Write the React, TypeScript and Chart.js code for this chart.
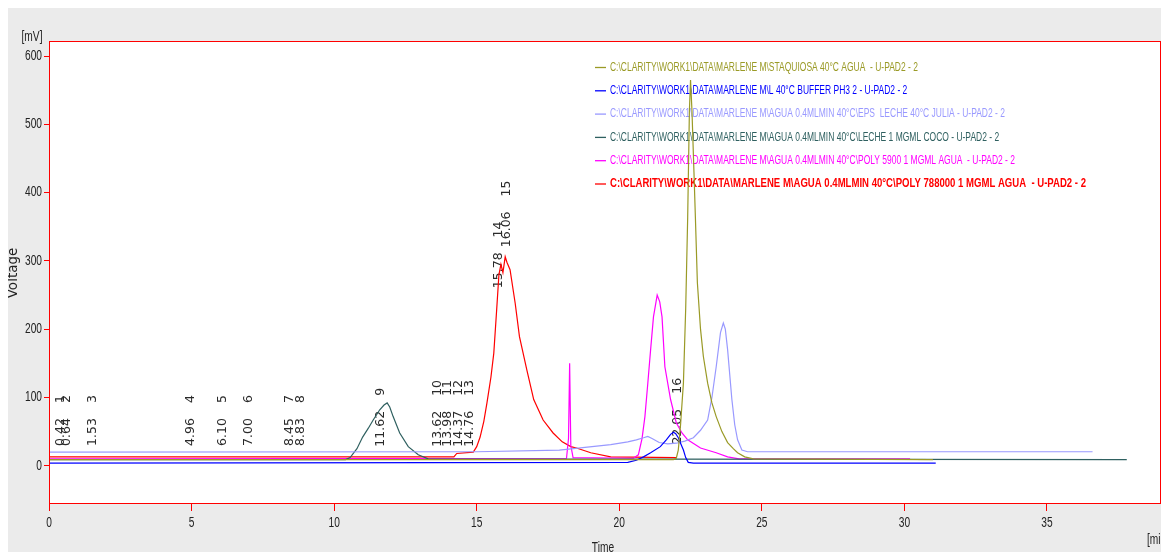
import React, { useEffect, useRef } from "react";
import { Chart, registerables } from "chart.js";

Chart.register(...registerables);

// ---- Data ----
const xTickValues = [0, 5, 10, 15, 20, 25, 30, 35];
const yTickValues = [0, 100, 200, 300, 400, 500, 600];

const legendLabels = [
  "C:\\CLARITY\\WORK1\\DATA\\MARLENE M\\STAQUIOSA 40°C AGUA  - U-PAD2 - 2",
  "C:\\CLARITY\\WORK1\\DATA\\MARLENE M\\L 40°C BUFFER PH3 2 - U-PAD2 - 2",
  "C:\\CLARITY\\WORK1\\DATA\\MARLENE M\\AGUA 0.4MLMIN 40°C\\EPS  LECHE 40°C JULIA - U-PAD2 - 2",
  "C:\\CLARITY\\WORK1\\DATA\\MARLENE M\\AGUA 0.4MLMIN 40°C\\LECHE 1 MGML COCO - U-PAD2 - 2",
  "C:\\CLARITY\\WORK1\\DATA\\MARLENE M\\AGUA 0.4MLMIN 40°C\\POLY 5900 1 MGML AGUA  - U-PAD2 - 2",
  "C:\\CLARITY\\WORK1\\DATA\\MARLENE M\\AGUA 0.4MLMIN 40°C\\POLY 788000 1 MGML AGUA  - U-PAD2 - 2",
];

// Staquiosa (olive)
const staquiosaTime = [0, 21.9, 22.0, 22.07, 22.15, 22.25, 22.33, 22.4, 22.46, 22.5, 22.55, 22.62, 22.67, 22.74, 22.85, 22.95, 23.1, 23.25, 23.4, 23.6, 23.8, 24.0, 24.15, 24.4, 24.7, 31.0];
const staquiosaMv = [9, 9, 11, 23, 60, 121, 230, 364, 520, 565, 520, 430, 364, 268, 200, 160, 121, 92, 72, 50, 34, 25, 19, 13, 10, 9];

// Buffer PH3 (blue)
const bufferTime = [0, 20.3, 20.6, 20.85, 21.1, 21.44, 21.65, 21.8, 21.9, 21.98, 22.07, 22.15, 22.25, 22.33, 22.42, 22.6, 31.1];
const bufferMv = [4, 5, 8, 13, 19, 28, 38, 46, 49, 47, 41, 33, 23, 12, 5, 4, 4];

// EPS leche (lavender)
const epsTime = [0, 15, 17.9, 18.8, 19.7, 20.3, 20.6, 20.85, 21.0, 21.15, 21.4, 21.7, 22.0, 22.3, 22.6, 22.85, 23.1, 23.25, 23.4, 23.55, 23.65, 23.72, 23.8, 23.95, 24.05, 24.15, 24.3, 24.5, 36.6];
const epsMv = [20, 20.5, 23, 27, 31, 35, 38, 41, 43, 40, 34, 32, 33, 36, 41, 52, 67, 100, 145, 195, 209, 200, 170, 97, 60, 38, 23, 20.5, 20.5];

// Leche coco (dark teal)
const cocoTime = [0, 10.4, 10.56, 10.8, 11.0, 11.2, 11.37, 11.6, 11.75, 11.86, 11.95, 12.07, 12.3, 12.6, 12.95, 13.3, 37.8];
const cocoMv = [9, 9, 12, 25, 42, 55, 67, 82, 89, 92, 86, 72, 48, 28, 16, 10, 9];

// Poly 5900 (magenta)
const poly5900Time = [0, 18.15, 18.22, 18.26, 18.3, 18.38, 20.5, 20.67, 20.8, 20.9, 21.0, 21.1, 21.2, 21.33, 21.42, 21.5, 21.6, 21.8, 22.0, 22.2, 22.4, 22.85, 23.4, 23.8, 24.2, 30.2];
const poly5900Mv = [10, 11, 40, 150, 30, 12, 11, 16, 40, 72, 120, 170, 218, 250, 240, 218, 145, 97, 63, 48, 38, 26, 19, 13, 10, 10];

// Poly 788000 (red)
const poly788Time = [0, 14.2, 14.3, 14.88, 15.0, 15.12, 15.25, 15.36, 15.5, 15.6, 15.7, 15.78, 15.85, 15.92, 16.0, 16.06, 16.17, 16.35, 16.5, 16.76, 17.0, 17.33, 17.68, 18.0, 18.3, 18.5, 19.0, 19.7, 22.0];
const poly788Mv = [13, 13, 18, 20, 28, 42, 65, 92, 130, 165, 228, 280, 295, 283, 306, 298, 287, 238, 189, 140, 97, 67, 48, 35, 28, 26, 19, 13, 12];

// Peak annotations
const peakIds = ["1", "2", "3", "4", "5", "6", "7", "8", "9", "10", "11", "12", "13", "14", "15", "16"];
const peakTimes = [0.42, 0.64, 1.53, 4.96, 6.1, 7.0, 8.45, 8.83, 11.62, 13.62, 13.98, 14.37, 14.76, 15.78, 16.06, 22.05];
const peakLabelMv = [29, 29, 29, 29, 29, 29, 29, 29, 28, 28, 28, 28, 28, 260, 320, 31];

const seriesColors = ["#9a9a26", "#0000ff", "#9999ff", "#2f6060", "#ff00ff", "#ff0000"];

const toPoints = (t: number[], v: number[]) => t.map((x, i) => ({ x, y: v[i] }));

const SANS = "'Liberation Sans', Arial, sans-serif";

// draw text horizontally squeezed so that `sample` at this font would be `targetW` wide
function squeezed(ctx: any, font: string, sample: string, targetW: number) {
  ctx.font = font;
  return targetW / ctx.measureText(sample).width;
}

const decorPlugin = {
  id: "decor",
  beforeDraw(chart: any) {
    const { ctx, chartArea } = chart;
    ctx.save();
    ctx.fillStyle = "#ffffff";
    ctx.fillRect(chartArea.left, chartArea.top, chartArea.right - chartArea.left, chartArea.bottom - chartArea.top);
    ctx.restore();
  },
  beforeDatasetsDraw(chart: any) {
    const { ctx, chartArea, scales } = chart;
    // legend
    ctx.save();
    const rowY0 = chartArea.top + 26;
    const rowStep = 23.3;
    const lineX0 = 587;
    const textX = 602;
    const regFont = `13.5px ${SANS}`;
    const boldFont = `bold 13.5px ${SANS}`;
    const sxReg = squeezed(ctx, regFont, legendLabels[4], 405);
    const sxBold = squeezed(ctx, boldFont, legendLabels[5], 476);
    legendLabels.forEach((lab, i) => {
      const y = rowY0 + i * rowStep;
      const bold = i === legendLabels.length - 1;
      ctx.strokeStyle = seriesColors[i];
      ctx.lineWidth = 1.3;
      ctx.beginPath();
      ctx.moveTo(lineX0, y + 0.5);
      ctx.lineTo(lineX0 + 11, y + 0.5);
      ctx.stroke();
      ctx.save();
      ctx.font = bold ? boldFont : regFont;
      ctx.fillStyle = seriesColors[i];
      ctx.textBaseline = "middle";
      ctx.textAlign = "left";
      ctx.translate(textX, y);
      ctx.scale(bold ? sxBold : sxReg, 1);
      ctx.fillText(lab, 0, 0);
      ctx.restore();
    });
    ctx.restore();

    // peak labels
    ctx.save();
    ctx.font = "12.5px 'DejaVu Sans', sans-serif";
    ctx.fillStyle = "#2a2a2a";
    ctx.textBaseline = "middle";
    ctx.textAlign = "left";
    peakTimes.forEach((t, i) => {
      const px = scales.x.getPixelForValue(t);
      const py = scales.y.getPixelForValue(peakLabelMv[i]);
      const ret = t.toFixed(2);
      ctx.save();
      ctx.translate(px, py);
      ctx.rotate(-Math.PI / 2);
      ctx.fillText(ret, 0, 0);
      const w = ctx.measureText(ret).width;
      ctx.fillText(peakIds[i], w + 15, 0);
      ctx.restore();
    });
    ctx.restore();
  },
  afterDraw(chart: any) {
    const { ctx, chartArea, scales } = chart;
    ctx.save();
    ctx.strokeStyle = "#ff0000";
    ctx.lineWidth = 1;
    ctx.strokeRect(chartArea.left + 0.5, chartArea.top + 0.5, chartArea.right - chartArea.left - 1, chartArea.bottom - chartArea.top - 1);

    const tickFont = `14px ${SANS}`;
    const sx = squeezed(ctx, tickFont, "600", 17);
    ctx.fillStyle = "#222222";
    ctx.font = tickFont;
    // y tick labels
    ctx.textBaseline = "middle";
    ctx.textAlign = "right";
    yTickValues.forEach((v) => {
      const py = scales.y.getPixelForValue(v);
      ctx.save();
      ctx.translate(chartArea.left - 7, py);
      ctx.scale(sx, 1);
      ctx.fillText(String(v), 0, 0);
      ctx.restore();
    });
    // x tick labels
    ctx.textAlign = "center";
    xTickValues.forEach((v) => {
      const px = scales.x.getPixelForValue(v);
      ctx.save();
      ctx.translate(px, chartArea.bottom + 19);
      ctx.scale(sx, 1);
      ctx.fillText(String(v), 0, 0);
      ctx.restore();
    });

    // axis titles
    const drawSq = (txt: string, x: number, y: number, align: string) => {
      ctx.save();
      ctx.translate(x, y);
      ctx.scale(sx, 1);
      ctx.textAlign = align;
      ctx.textBaseline = "middle";
      ctx.fillText(txt, 0, 0);
      ctx.restore();
    };
    drawSq("[mV]", 24, 29, "center");
    drawSq("Time", 595, 540, "center");
    drawSq("[min.]", 1139, 532, "left");

    ctx.save();
    ctx.font = "13.5px 'DejaVu Sans', sans-serif";
    ctx.translate(5, 265);
    ctx.rotate(-Math.PI / 2);
    ctx.textAlign = "center";
    ctx.textBaseline = "middle";
    ctx.fillText("Voltage", 0, 0);
    ctx.restore();
    ctx.restore();
  },
};

export default function App() {
  const canvasRef = useRef<HTMLCanvasElement | null>(null);

  useEffect(() => {
    if (!canvasRef.current) return;
    const series = [
      [staquiosaTime, staquiosaMv],
      [bufferTime, bufferMv],
      [epsTime, epsMv],
      [cocoTime, cocoMv],
      [poly5900Time, poly5900Mv],
      [poly788Time, poly788Mv],
    ];
    const chart = new Chart(canvasRef.current, {
      type: "line",
      data: {
        datasets: series.map(([t, v], i) => ({
          label: legendLabels[i],
          data: toPoints(t as number[], v as number[]),
          borderColor: seriesColors[i],
          backgroundColor: seriesColors[i],
          borderWidth: 1.2,
          pointRadius: 0,
          tension: 0,
          fill: false,
        })),
      },
      options: {
        animation: false,
        responsive: false,
        devicePixelRatio: 1,
        layout: { padding: { top: 33, right: 8, left: 0, bottom: 0 } },
        plugins: { legend: { display: false }, tooltip: { enabled: false } },
        scales: {
          x: {
            type: "linear",
            min: 0,
            max: 39,
            afterBuildTicks: (s: any) => {
              s.ticks = xTickValues.map((v) => ({ value: v }));
            },
            afterFit: (s: any) => {
              s.height = 48;
            },
            grid: { drawOnChartArea: false, drawTicks: true, tickLength: 7, color: "#ff0000", lineWidth: 1 },
            border: { display: false },
            ticks: {
              font: { family: SANS, size: 13 },
              color: "rgba(0,0,0,0)",
              padding: 5,
              maxRotation: 0,
              callback: (v: any) => String(v),
            },
          },
          y: {
            type: "linear",
            min: -56,
            max: 622,
            afterBuildTicks: (s: any) => {
              s.ticks = yTickValues.map((v) => ({ value: v }));
            },
            afterFit: (s: any) => {
              s.width = 41;
            },
            grid: { drawOnChartArea: false, drawTicks: true, tickLength: 5, color: "#ff0000", lineWidth: 1 },
            border: { display: false },
            ticks: {
              font: { family: SANS, size: 13 },
              color: "rgba(0,0,0,0)",
              padding: 2,
              callback: (v: any) => String(v),
            },
          },
        },
      },
      plugins: [decorPlugin],
    } as any);
    return () => chart.destroy();
  }, []);

  return (
    <div style={{ width: 1161, height: 544, background: "#ebebeb" }}>
      <canvas ref={canvasRef} width={1161} height={544} style={{ display: "block" }} />
    </div>
  );
}
